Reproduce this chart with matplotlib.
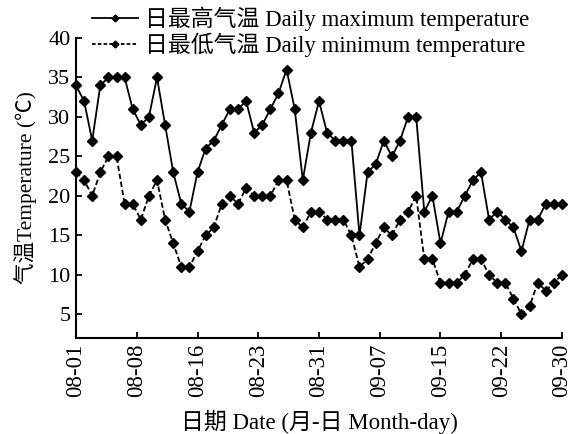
import numpy as np
import matplotlib
matplotlib.use("Agg")
import matplotlib.pyplot as plt
from matplotlib.lines import Line2D

plt.rcParams["font.family"] = ["Liberation Serif", "Noto Sans CJK SC", "DejaVu Sans"]

# Daily temperatures, 1 Aug - 30 Sep (61 days)
t_max = [34, 32, 27, 34, 35, 35, 35, 31, 29, 30, 35, 29, 23, 19, 18, 23, 26, 27, 29, 31, 31,
         32, 28, 29, 31, 33, 36, 31, 22, 28, 32, 28, 27, 27, 27, 15, 23, 24, 27, 25, 27, 30,
         30, 18, 20, 14, 18, 18, 20, 22, 23, 17, 18, 17, 16, 13, 17, 17, 19, 19, 19]
t_min = [23, 22, 20, 23, 25, 25, 19, 19, 17, 20, 22, 17, 14, 11, 11, 13, 15, 16, 19, 20, 19,
         21, 20, 20, 20, 22, 22, 17, 16, 18, 18, 17, 17, 17, 15, 11, 12, 14, 16, 15, 17, 18,
         20, 12, 12, 9, 9, 9, 10, 12, 12, 10, 9, 9, 7, 5, 6, 9, 8, 9, 10]
tick_labels = ["08-01", "08-08", "08-16", "08-23", "08-31", "09-07", "09-15", "09-22", "09-30"]
y_ticks = [5, 10, 15, 20, 25, 30, 35, 40]

label_max = "日最高气温 Daily maximum temperature"
label_min = "日最低气温 Daily minimum temperature"

dash = (0, (3, 1.5))
fig = plt.figure(figsize=(5.82, 4.34), dpi=100)
ax = fig.add_axes([0.1306, 0.2212, 0.835, 0.6912])

x = np.arange(len(t_max))
ax.plot(x, t_max, color="black", lw=1.3, marker="D", ms=5, clip_on=False)
ax.plot(x, t_min, color="black", lw=1.3, ls=dash, marker="D", ms=5, clip_on=False)

ax.set_xlim(0, len(t_max) - 1)
ax.set_ylim(2, 40)
ax.set_xticks(np.linspace(0, len(t_max) - 1, len(tick_labels)))
ax.set_xticklabels(tick_labels, rotation=90, fontsize=16.5)
ax.set_yticks(y_ticks)
ax.set_yticklabels([str(v) for v in y_ticks], fontsize=16)
ax.tick_params(direction="in", length=4, width=1.3, pad=4, colors="black")

for side in ("top", "right"):
    ax.spines[side].set_visible(False)
for side in ("left", "bottom"):
    ax.spines[side].set_linewidth(1.5)

ax.set_xlabel("日期 Date (月-日 Month-day)", fontsize=16.5, labelpad=9)
ax.set_ylabel("气温Temperature (℃)", fontsize=15.5, labelpad=8)

# legend keys use a smaller diamond than the data markers
h_max = Line2D([], [], color="black", lw=1.3, marker="D", ms=3.5)
h_min = Line2D([], [], color="black", lw=1.3, ls=(0, (2, 1.2)), marker="D", ms=3.5)
fig.legend([h_max, h_min], [label_max, label_min], loc="upper left",
           bbox_to_anchor=(0.143, 1.007), frameon=False, fontsize=16.5,
           handlelength=2.0, handletextpad=0.3, labelspacing=0.1,
           borderaxespad=0)

fig.savefig("out.png", dpi=100)
